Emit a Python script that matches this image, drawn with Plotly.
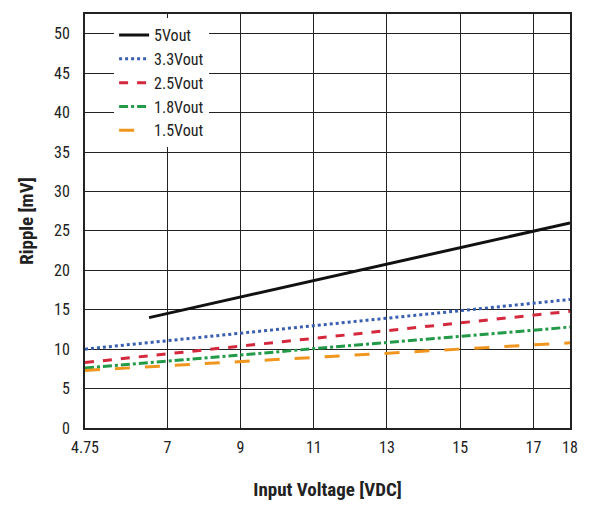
import plotly.graph_objects as go

x_vin = [4.75, 18]
x_5v = [6.5, 18]
ripple_5v = [14, 26]
ripple_33v = [10, 16.3]
ripple_25v = [8.3, 14.8]
ripple_18v = [7.6, 12.8]
ripple_15v = [7.3, 10.8]
x_ticks = [4.75, 7, 9, 11, 13, 15, 17, 18]
y_ticks = list(range(0, 55, 5))

series = [
    ("5Vout", x_5v, ripple_5v, "#111111", "solid", 3),
    ("3.3Vout", x_vin, ripple_33v, "#3a5fb0", "dot", 3),
    ("2.5Vout", x_vin, ripple_25v, "#d4283c", "dash", 3),
    ("1.8Vout", x_vin, ripple_18v, "#239a48", "dashdot", 3),
    ("1.5Vout", x_vin, ripple_15v, "#f0961e", "longdash", 3),
]

fig = go.Figure()
for name, xs, ys, color, dash, w in series:
    fig.add_trace(go.Scatter(x=xs, y=ys, name=name, mode="lines",
                             line={"color": color, "dash": dash, "width": w}))

# page has an 8px body margin, so the figure is sized to fit the window
font = {"family": "Roboto Condensed, Liberation Sans Narrow, sans-serif", "size": 16, "color": "#222"}
fig.update_layout(
    width=574, height=493, plot_bgcolor="white", paper_bgcolor="white",
    margin={"l": 77, "r": 8, "t": 4, "b": 63},
    font=font, showlegend=True,
    legend={"x": 0.06, "y": 0.99, "bgcolor": "white", "font": font, "tracegroupgap": 0},
)
fig.update_xaxes(range=[4.75, 18], tickvals=x_ticks, ticktext=[str(t) for t in x_ticks],
                 showgrid=True, gridcolor="#222", gridwidth=1.3, showline=True,
                 linecolor="#222", linewidth=2, mirror=True, ticklabelstandoff=4,
                 ticklabeloverflow="allow",
                 title={"text": "<b>Input Voltage [VDC]</b>", "standoff": 26})
fig.update_yaxes(range=[0, 52.5], tickvals=y_ticks, showgrid=True, gridcolor="#222",
                 gridwidth=1.3, showline=True, linecolor="#222", linewidth=2, mirror=True,
                 zeroline=False, ticklabelstandoff=10, title={"text": "<b>Ripple [mV]</b>"})
fig.write_html("out.html")
